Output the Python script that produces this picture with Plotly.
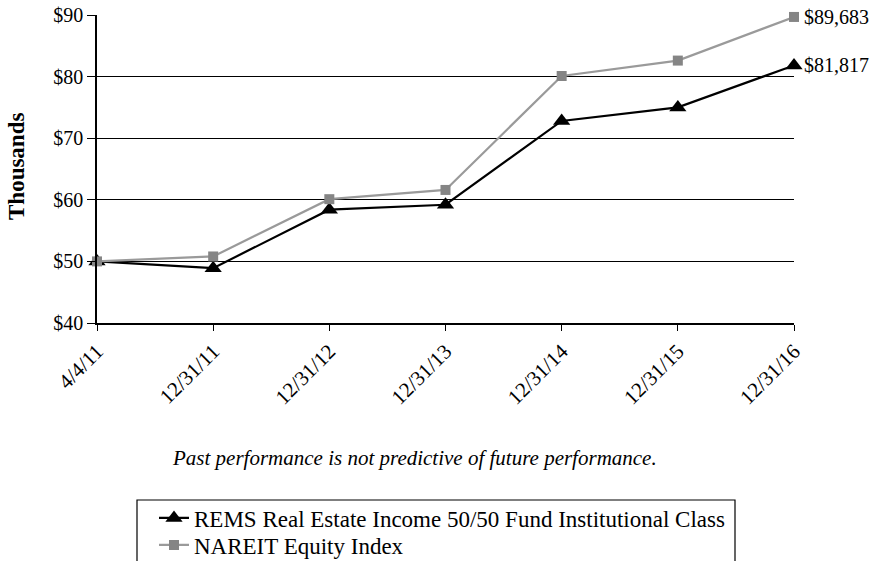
import plotly.graph_objects as go

dates = ["4/4/11", "12/31/11", "12/31/12", "12/31/13", "12/31/14", "12/31/15", "12/31/16"]
rems = [50.0, 48.9, 58.4, 59.2, 72.8, 75.0, 81.817]
nareit = [50.0, 50.8, 60.1, 61.6, 80.1, 82.6, 89.683]
end_labels = ["$81,817", "$89,683"]
name_rems = "REMS Real Estate Income 50/50 Fund Institutional Class"
name_nareit = "NAREIT Equity Index"

FONT = "Liberation Serif"
W, H = 881, 561
# plot area in screen pixels: x 97..794, y 15..323
SL, SR, ST, SB = 97, 794, 15, 323
L, T, R, B = SL, ST, W - SR, H - SB
pw, ph = W - L - R, H - T - B

def px(x):
    return (x - L) / pw

def py(y):
    return (H - B - y) / ph

fig = go.Figure()
fig.add_trace(go.Scatter(
    x=dates, y=rems, name=name_rems, mode="lines+markers",
    line=dict(color="black", width=2.2),
    marker=dict(symbol="triangle-up", size=15, color="black"),
    cliponaxis=False, legend="legend",
))
fig.add_trace(go.Scatter(
    x=dates, y=nareit, name=name_nareit, mode="lines+markers",
    line=dict(color="#9a9a9a", width=2.2),
    marker=dict(symbol="square", size=10, color="#858585"),
    cliponaxis=False, legend="legend2",
))

fig.add_annotation(x=dates[-1], y=rems[-1], text=end_labels[0], showarrow=False,
                   xanchor="left", xshift=8, font=dict(family=FONT, size=20, color="black"))
fig.add_annotation(x=dates[-1], y=nareit[-1], text=end_labels[1], showarrow=False,
                   xanchor="left", xshift=8, font=dict(family=FONT, size=20, color="black"))

fig.add_annotation(xref="paper", yref="paper", x=px(414), y=py(458),
                   text="<i>Past performance is not predictive of future performance.</i>",
                   showarrow=False, xanchor="center", yanchor="middle",
                   font=dict(family=FONT, size=21, color="black"))

fig.add_annotation(xref="paper", yref="paper", x=px(16), y=py(167),
                   text="<b>Thousands</b>", textangle=-90,
                   showarrow=False, xanchor="center", yanchor="middle",
                   font=dict(family=FONT, size=23, color="black"))

fig.add_shape(type="rect", xref="paper", yref="paper",
              x0=px(137), x1=px(735), y0=py(580), y1=py(500),
              line=dict(color="black", width=1.2), fillcolor="rgba(0,0,0,0)")

leg_common = dict(xanchor="left", yanchor="middle", bgcolor="rgba(0,0,0,0)",
                  borderwidth=0, font=dict(family=FONT, size=23, color="black"),
                  itemwidth=30)

fig.update_layout(
    width=W, height=H,
    margin=dict(l=L, r=R, t=T, b=B, autoexpand=False),
    paper_bgcolor="white", plot_bgcolor="white",
    font=dict(family=FONT, size=19, color="black"),
    showlegend=True,
    legend=dict(x=px(154), y=py(518), **leg_common),
    legend2=dict(x=px(154), y=py(545), **leg_common),
    xaxis=dict(
        type="category", range=[0, 6], showgrid=False,
        showline=True, linecolor="black", linewidth=1.5,
        ticks="outside", ticklen=6, tickcolor="black",
        tickangle=-45, tickfont=dict(family=FONT, size=21),
        zeroline=False, automargin=False,
    ),
    yaxis=dict(
        range=[40, 90], dtick=10, tickprefix="$",
        showgrid=True, gridcolor="black", gridwidth=1,
        showline=True, linecolor="black", linewidth=1.5,
        ticks="outside", ticklen=8, tickcolor="black",
        tickfont=dict(family=FONT, size=20),
        zeroline=False, automargin=False,
    ),
)

fig.write_html("out.html", config={"displayModeBar": False},
               post_script="document.body.style.margin='0';")
